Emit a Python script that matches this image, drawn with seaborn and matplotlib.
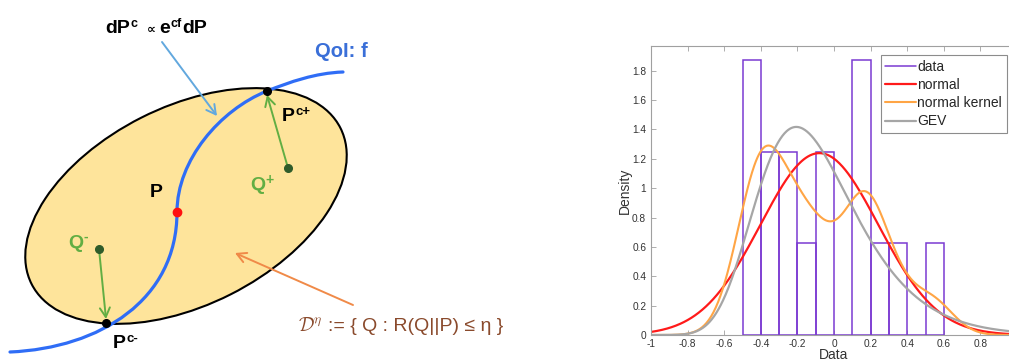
import numpy as np
import matplotlib
matplotlib.use("Agg")
import matplotlib.pyplot as plt
import seaborn as sns
from matplotlib.patches import Ellipse, PathPatch
from matplotlib.path import Path
from matplotlib.lines import Line2D

# ---------------------------------------------------------------- data
# observed sample (16 values), shown as a density histogram
samples = [-0.498, -0.434, -0.402, -0.386, -0.367, -0.289, -0.235, -0.175,
           -0.097, -0.032, 0.150, 0.151, 0.153, 0.219, 0.338, 0.540]
bin_edges = [-0.5, -0.4, -0.3, -0.2, -0.1, 0.0, 0.1, 0.2, 0.3, 0.4, 0.5, 0.6]

# fitted models
normal_mu, normal_sigma = -0.08, 0.322
gev_shape, gev_scale, gev_loc = -0.06, 0.26, -0.222
kernel_bandwidth = 0.115

series_labels = ["data", "normal", "normal kernel", "GEV"]
x_ticks = [-1, -0.8, -0.6, -0.4, -0.2, 0, 0.2, 0.4, 0.6, 0.8]
x_tick_labels = ["-1", "-0.8", "-0.6", "-0.4", "-0.2", "0", "0.2", "0.4", "0.6", "0.8"]
y_ticks = [0, 0.2, 0.4, 0.6, 0.8, 1, 1.2, 1.4, 1.6, 1.8]
y_tick_labels = ["0", "0.2", "0.4", "0.6", "0.8", "1", "1.2", "1.4", "1.6", "1.8"]

# ---------------------------------------------------------------- style
sns.set_theme(style="white")
FONTS = ["Liberation Sans", "DejaVu Sans"]
plt.rcParams["font.family"] = FONTS

C_DATA = "#7B3AD2"
C_NORMAL = "#FF1A1A"
C_KERNEL = "#FFA545"
C_GEV = "#A6A6A6"
C_SPINE = "#A0A0A0"
C_TICKTXT = "#333333"

fig = plt.figure(figsize=(10.09, 3.6), dpi=100)
renderer = fig.canvas.get_renderer()

# ================================================================ diagram
axd = fig.add_axes([0, 0, 600 / 1009, 1])
axd.set_xlim(0, 600)
axd.set_ylim(360, 0)
axd.set_axis_off()

region = Ellipse((186, 206), 346, 198, angle=-26.8,
                 facecolor="#FEE49B", edgecolor="black", lw=1.5, zorder=1)
axd.add_patch(region)

qoi_path = Path(
    [(10, 352), (100, 348), (177, 300), (177, 212),
     (177, 160), (220, 110), (267, 91),
     (290, 82), (315, 73), (343, 72)],
    [Path.MOVETO] + [Path.CURVE4] * 9)
axd.add_patch(PathPatch(qoi_path, facecolor="none", edgecolor="#2F6DF6",
                        lw=2.3, capstyle="round", zorder=3))

GREEN = "#62AE43"
DARK_GREEN = "#2F5C2A"
BROWN = "#8A4A2C"


def arrow(start, tip, color, lw=1.4):
    axd.annotate("", xy=tip, xytext=start, zorder=4,
                 arrowprops=dict(arrowstyle="->,head_length=0.55,head_width=0.3",
                                 color=color, lw=lw, shrinkA=0, shrinkB=0))


def run(x, y, pieces, color, weight="bold"):
    """Write text pieces one after another; each piece is
    (string, fontsize, rise, gap_before)."""
    for s, size, rise, gap in pieces:
        x += gap
        t = axd.text(x, y - rise, s, fontsize=size, color=color,
                     fontweight=weight, ha="left", va="baseline", zorder=6)
        x += t.get_window_extent(renderer).width


arrow((162, 42), (217, 116), "#62A8DE")
arrow((288, 168), (267, 95), GREEN)
arrow((99, 249), (106, 319), GREEN)
arrow((353, 305), (235, 253), "#F08A48")

axd.plot([267], [91], "o", color="black", ms=5.5, zorder=5)
axd.plot([106], [323], "o", color="black", ms=5.5, zorder=5)
axd.plot([177], [212], "o", color="#FF1010", ms=6, zorder=5)
axd.plot([288], [168], "o", color=DARK_GREEN, ms=5.5, zorder=5)
axd.plot([99], [249], "o", color=DARK_GREEN, ms=5.5, zorder=5)

run(105, 33, [("dP", 14, 0, 0), ("c", 9, 6, 0.5), ("∝", 9, 0, 10),
              ("e", 14, 0, 3), ("cf", 9, 6, 0.5), ("dP", 14, 0, 0.5)], "black")
run(315, 57, [("QoI: f", 14.5, 0, 0)], "#3A6FD8")
run(282, 121, [("P", 14, 0, 0), ("c+", 9.5, 6, 0.5)], "black")
run(250, 190, [("Q", 14, 0, 0), ("+", 10, 6, 0.5)], GREEN)
run(150, 197, [("P", 14, 0, 0)], "black")
run(68, 248, [("Q", 14, 0, 0), ("-", 10, 7, 0.5)], GREEN)
run(113, 348, [("P", 14, 0, 0), ("c-", 9.5, 6, 0.5)], "black")

axd.text(298, 331, r"$\mathcal{D}^{\eta}$", fontsize=14, color=BROWN,
         math_fontfamily="cm", ha="left", va="baseline", zorder=6)
axd.text(328, 331, ":= { Q : R(Q||P) ≤ η }", fontsize=14, color=BROWN,
         ha="left", va="baseline", zorder=6)

# ================================================================ histogram
ax = fig.add_axes([651 / 1009, 25 / 360, 366 / 1009, 289 / 360])

sns.histplot(x=samples, bins=bin_edges, stat="density", fill=False,
             element="bars", color=C_DATA, linewidth=1.1, ax=ax)

xs = np.linspace(-1.0, 1.0, 500)
normal_pdf = np.exp(-0.5 * ((xs - normal_mu) / normal_sigma) ** 2) / (
    normal_sigma * np.sqrt(2 * np.pi))
sns.lineplot(x=xs, y=normal_pdf, color=C_NORMAL, lw=1.6, ax=ax)

sns.kdeplot(x=samples, bw_method=kernel_bandwidth / np.std(samples, ddof=1),
            cut=10, clip=(-1.05, 1.05), gridsize=500, color=C_KERNEL,
            lw=1.5, ax=ax)

z = 1 + gev_shape * (xs - gev_loc) / gev_scale
t = np.where(z > 0, np.abs(z) ** (-1 / gev_shape), np.nan)
gev_pdf = (1 / gev_scale) * t ** (gev_shape + 1) * np.exp(-t)
sns.lineplot(x=xs, y=gev_pdf, color=C_GEV, lw=1.6, ax=ax)

ax.set_xlim(-1, 1)
ax.set_ylim(0, 1.96875)
ax.set_xticks(x_ticks, x_tick_labels)
ax.set_yticks(y_ticks, y_tick_labels)
ax.tick_params(direction="in", length=3.5, width=0.6, color=C_SPINE,
               labelcolor=C_TICKTXT, labelsize=7.3, top=True, right=True,
               bottom=True, left=True)
ax.tick_params(axis="y", pad=3.5)
ax.tick_params(axis="x", pad=3)
for sp in ax.spines.values():
    sp.set_color(C_SPINE)
    sp.set_linewidth(0.8)

ax.set_xlabel("Data", fontsize=10, color=C_TICKTXT, va="top")
ax.xaxis.set_label_coords(0.5, -0.045)
ax.set_ylabel("Density", fontsize=10, color=C_TICKTXT)
ax.yaxis.set_label_coords(-0.052, 0.5)

handles = [Line2D([], [], color=c, lw=w)
           for c, w in zip([C_DATA, C_NORMAL, C_KERNEL, C_GEV],
                           [1.1, 1.6, 1.5, 1.6])]
leg = ax.legend(handles, series_labels, loc="upper right",
                bbox_to_anchor=(1007 / 1009, 1 - 55 / 360),
                bbox_transform=fig.transFigure, borderaxespad=0,
                fontsize=10, frameon=True, fancybox=False, framealpha=1,
                edgecolor="#8C8C8C", borderpad=0.35, handlelength=2.2,
                handletextpad=0.1, labelspacing=0.3)
leg.get_frame().set_linewidth(0.8)

fig.savefig("out.png", dpi=100, facecolor="white")
